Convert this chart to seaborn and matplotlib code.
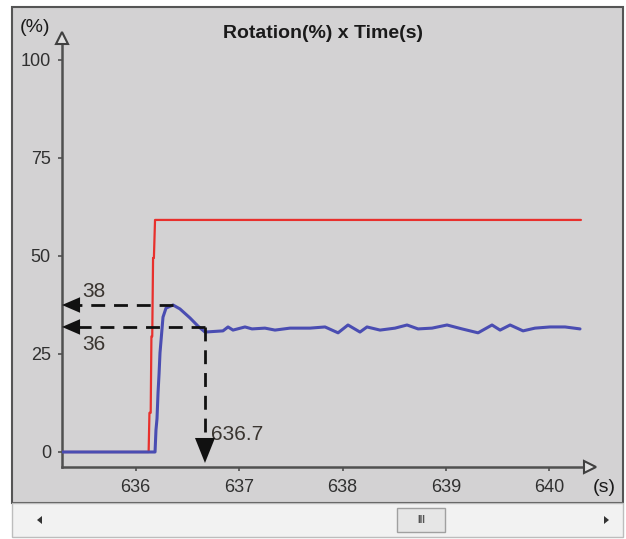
import matplotlib
matplotlib.use("Agg")
import matplotlib.pyplot as plt
import seaborn as sns
import pandas as pd
from matplotlib.patches import Rectangle, Polygon

# ---- data ----
red_t = [635.287, 636.125, 636.133, 636.145, 636.152, 636.160, 636.168, 636.176, 636.187, 640.306]
red_v = [0, 0, 10, 10, 29.5, 29.5, 49.5, 49.5, 59.2, 59.2]

blue_t = [635.287, 636.187, 636.196, 636.206, 636.216, 636.226, 636.235, 636.250, 636.264,
          636.293, 636.361, 636.428,
          636.525, 636.603, 636.670, 636.844, 636.893, 636.941, 637.057, 637.125, 637.250,
          637.347, 637.492, 637.686, 637.831, 637.957, 638.053, 638.169, 638.237, 638.363,
          638.508, 638.624, 638.731, 638.866, 639.011, 639.156, 639.311, 639.446, 639.524,
          639.621, 639.746, 639.862, 640.007, 640.152, 640.297]
blue_v = [0, 0, 5.6, 8.5, 15.1, 20.0, 25.3, 30.0, 34.4,
          36.7, 37.5, 36.5,
          34.2, 32.1, 30.6, 30.9, 31.9, 31.1, 31.9, 31.4, 31.6,
          31.1, 31.6, 31.6, 31.9, 30.4, 32.4, 30.6, 31.9, 31.1,
          31.6, 32.4, 31.4, 31.6, 32.4, 31.4, 30.4, 32.4, 31.1,
          32.4, 30.9, 31.6, 31.9, 31.9, 31.4]

yticks = [0, 25, 50, 75, 100]
xticks = [636, 637, 638, 639, 640]

peak_level = 37.5
settle_level = 31.9
settle_time = 636.67
peak_time = 636.36
label_peak = "38"
label_settle = "36"
label_time = "636.7"
title = "Rotation(%) x Time(s)"

# ---- figure ----
W, H = 626, 539
sns.set_theme(style="white")
plt.rcParams['font.family'] = ['Liberation Sans', 'DejaVu Sans']
fig = plt.figure(figsize=(W / 100, H / 100), dpi=100)
fig.patch.set_facecolor('white')

def fx(px):
    return px / W

def fy(py):
    return 1 - py / H

panel_bg = '#d3d2d3'
# gray panel
fig.add_artist(Rectangle((fx(12), fy(503)), fx(623) - fx(12), fy(7) - fy(503),
                         transform=fig.transFigure, facecolor=panel_bg,
                         edgecolor='#555555', linewidth=1.5, zorder=0))
# scrollbar
fig.add_artist(Rectangle((fx(12), fy(537)), fx(623) - fx(12), fy(503) - fy(537),
                         transform=fig.transFigure, facecolor='#f2f2f2',
                         edgecolor='#bdbdbd', linewidth=1.0, zorder=0))
fig.add_artist(Rectangle((fx(397), fy(532)), fx(445) - fx(397), fy(508) - fy(532),
                         transform=fig.transFigure, facecolor='#e6e6e6',
                         edgecolor='#a0a0a0', linewidth=1.0, zorder=1))
fig.text(fx(421), fy(520), "III", ha='center', va='center', fontsize=7,
         color='#555555', fontweight='bold')
fig.add_artist(Polygon([(fx(37), fy(520)), (fx(42), fy(516)), (fx(42), fy(524))],
                       closed=True, transform=fig.transFigure, facecolor='#333333',
                       edgecolor='none'))
fig.add_artist(Polygon([(fx(609), fy(520)), (fx(604), fy(516)), (fx(604), fy(524))],
                       closed=True, transform=fig.transFigure, facecolor='#333333',
                       edgecolor='none'))

# axes placed so the axis lines sit where the reference draws them
ax_l, ax_r, ax_t, ax_b = 62, 590, 38, 467
ax = fig.add_axes([fx(ax_l), fy(ax_b), fx(ax_r) - fx(ax_l), fy(ax_t) - fy(ax_b)])
ax.set_facecolor(panel_bg)
ax.patch.set_alpha(0)

px_per_s = 103.4
px_per_u = 3.92
x0 = 636 - (135.7 - ax_l) / px_per_s
x1 = 636 + (ax_r - 135.7) / px_per_s
y0 = -(ax_b - 452) / px_per_u
y1 = (452 - ax_t) / px_per_u
ax.set_xlim(x0, x1)
ax.set_ylim(y0, y1)

red_df = pd.DataFrame({"t": red_t, "v": red_v})
blue_df = pd.DataFrame({"t": blue_t, "v": blue_v})
sns.lineplot(data=red_df, x="t", y="v", estimator=None, sort=False, ax=ax,
             color='#e8302c', linewidth=1.6, zorder=3)
sns.lineplot(data=blue_df, x="t", y="v", estimator=None, sort=False, ax=ax,
             color='#4a4db2', linewidth=2.2, zorder=4)

# axes styling
for s in ['top', 'right']:
    ax.spines[s].set_visible(False)
for s in ['left', 'bottom']:
    ax.spines[s].set_color('#505050')
    ax.spines[s].set_linewidth(1.8)
    ax.spines[s].set_zorder(2)
ax.set_xticks(xticks)
ax.set_yticks(yticks)
ax.set_xticklabels([str(v) for v in xticks])
ax.set_yticklabels([str(v) for v in yticks])
ax.tick_params(axis='both', which='major', length=3, width=1.2, color='#505050',
               labelsize=13, labelcolor='#303030', left=True, bottom=True)
ax.tick_params(axis='x', pad=6)
ax.tick_params(axis='y', pad=5)
ax.set_xlabel("")
ax.set_ylabel("")
ax.grid(False)

# axis arrow heads (open triangles)
ax.plot(0, 1, marker='^', markersize=9, mfc='#e0e0e0', mec='#404040', mew=1.5,
        transform=ax.transAxes, clip_on=False, zorder=5)
ax.plot(1, 0, marker='>', markersize=9, mfc='#e0e0e0', mec='#404040', mew=1.5,
        transform=ax.transAxes, clip_on=False, zorder=5)

# dashed guide lines with arrow heads
dash = dict(color='#111111', linewidth=2.0, linestyle=(0, (5, 3.2)), zorder=6)
head_len_s = 17 / px_per_s
ax.plot([peak_time, x0 + head_len_s], [peak_level, peak_level], **dash)
ax.plot([settle_time, x0 + head_len_s], [settle_level, settle_level], **dash)
tip_y = -2.8
ax.plot([settle_time, settle_time], [settle_level, tip_y + 22 / px_per_u], **dash)

for lvl in (peak_level, settle_level):
    ax.annotate("", xy=(x0, lvl), xytext=(x0 + 24 / px_per_s, lvl),
                arrowprops=dict(arrowstyle='-|>,head_length=0.65,head_width=0.28',
                                mutation_scale=20, color='#111111', lw=0,
                                shrinkA=0, shrinkB=0), zorder=7)
ax.annotate("", xy=(settle_time, tip_y), xytext=(settle_time, tip_y + 30 / px_per_u),
            arrowprops=dict(arrowstyle='-|>,head_length=0.9,head_width=0.36',
                            mutation_scale=20, color='#111111', lw=0,
                            shrinkA=0, shrinkB=0), zorder=7)

txt_color = '#3a3530'
ax.text(x0 + 20 / px_per_s, peak_level + 3.5, label_peak, fontsize=15,
        color=txt_color, ha='left', va='center')
ax.text(x0 + 20 / px_per_s, settle_level - 4.5, label_settle, fontsize=15,
        color=txt_color, ha='left', va='center')
ax.text(settle_time + 6 / px_per_s, 4.4, label_time, fontsize=15,
        color=txt_color, ha='left', va='center')

# title and unit labels
fig.text(fx(323), fy(33), title, ha='center', va='center', fontsize=14,
         fontweight='bold', color='#1a1a1a')
fig.text(fx(35), fy(28), "(%)", ha='center', va='center', fontsize=14,
         color='#1a1a1a')
fig.text(fx(604), fy(488), "(s)", ha='center', va='center', fontsize=14,
         color='#1a1a1a')

fig.savefig("out.png", dpi=100, facecolor='white')
